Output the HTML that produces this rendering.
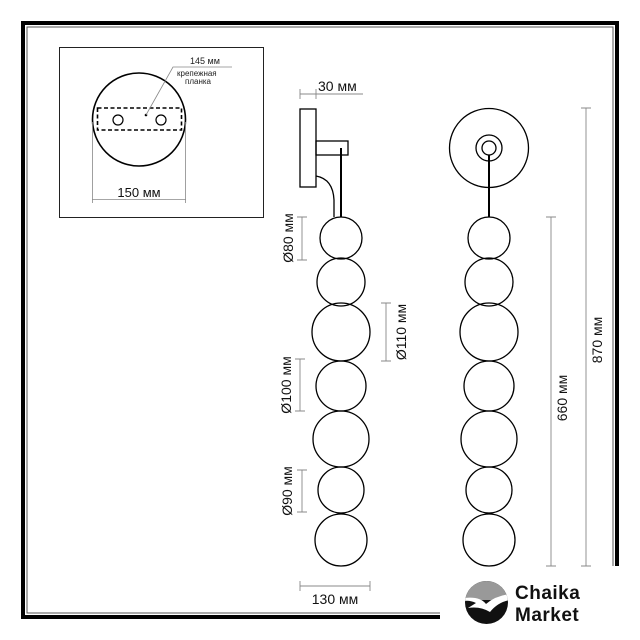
<!DOCTYPE html>
<html><head><meta charset="utf-8"><style>html,body{margin:0;padding:0;background:#fff}svg{display:block}</style></head><body>
<svg width="640" height="640" viewBox="0 0 640 640" xmlns="http://www.w3.org/2000/svg" font-family="Liberation Sans, DejaVu Sans, sans-serif">
<rect width="640" height="640" fill="#fff"/>
<!-- frame -->
<g fill="none" stroke="#000">
<path d="M440,617 L23,617 L23,23 L617,23 L617,566" stroke-width="4"/>
<path d="M440,613 L27,613 L27,27 L613,27 L613,566" stroke-width="1" stroke="#555"/>
</g>
<!-- inset -->
<rect x="59.5" y="47.5" width="204" height="170" fill="none" stroke="#222" stroke-width="1"/>
<circle cx="139" cy="119.5" r="46.5" fill="none" stroke="#000" stroke-width="1.6"/>
<rect x="97.5" y="108" width="84" height="22" fill="none" stroke="#000" stroke-width="1.6" stroke-dasharray="4,2.5"/>
<circle cx="118" cy="120" r="5" fill="none" stroke="#000" stroke-width="1.2"/>
<circle cx="161" cy="120" r="5" fill="none" stroke="#000" stroke-width="1.2"/>
<circle cx="146" cy="115" r="1.3" fill="#000"/>
<path d="M146,115 L173,67 L232,67" fill="none" stroke="#888" stroke-width="0.8"/>
<text x="190" y="64" font-size="9" fill="#222">145 мм</text>
<text x="177" y="76" font-size="8" fill="#222">крепежная</text>
<text x="185" y="84" font-size="8" fill="#222">планка</text>
<g stroke="#888" stroke-width="0.8"><line x1="92.5" y1="122" x2="92.5" y2="203"/><line x1="185.5" y1="122" x2="185.5" y2="203"/><line x1="92" y1="199.5" x2="186" y2="199.5"/></g>
<text x="139" y="197" font-size="13" text-anchor="middle" fill="#111">150 мм</text>
<!-- side view -->
<g fill="none" stroke="#000" stroke-width="1.3">
<rect x="300" y="109" width="16" height="78"/>
<rect x="316" y="141" width="32" height="14"/>
<path d="M316,176 Q333,179 334,200 L334,217"/>
<line x1="341" y1="148" x2="341" y2="217" stroke-width="2"/>
<circle cx="341" cy="238" r="21"/>
<circle cx="341" cy="282" r="24"/>
<circle cx="341" cy="332" r="29"/>
<circle cx="341" cy="386" r="25"/>
<circle cx="341" cy="439" r="28"/>
<circle cx="341" cy="490" r="23"/>
<circle cx="341" cy="540" r="26"/>
</g>
<!-- front view -->
<g fill="none" stroke="#000" stroke-width="1.3">
<circle cx="489" cy="148" r="39.5"/>
<circle cx="489" cy="148" r="13"/>
<circle cx="489" cy="148" r="7"/>
<line x1="489" y1="155" x2="489" y2="217" stroke-width="2"/>
<circle cx="489" cy="238" r="21"/>
<circle cx="489" cy="282" r="24"/>
<circle cx="489" cy="332" r="29"/>
<circle cx="489" cy="386" r="25"/>
<circle cx="489" cy="439" r="28"/>
<circle cx="489" cy="490" r="23"/>
<circle cx="489" cy="540" r="26"/>
</g>
<!-- dims -->
<g stroke="#888" stroke-width="0.9" fill="none">
<path d="M300,94 H363 M300,89 V99 M316,89 V99"/>
<path d="M302,217 V260 M297,217 H307 M297,260 H307"/>
<path d="M386,303 V361 M381,303 H391 M381,361 H391"/>
<path d="M300,359 V411 M295,359 H305 M295,411 H305"/>
<path d="M302,470 V512 M297,470 H307 M297,512 H307"/>
<path d="M300,586 H370 M300,581 V591 M370,581 V591"/>
<path d="M586,108 V566 M581,108 H591 M581,566 H591"/>
<path d="M551,217 V566 M546,217 H556 M546,566 H556"/>
</g>
<g font-size="14" fill="#111">
<text x="318" y="91">30 мм</text>
<text x="335" y="604" text-anchor="middle">130 мм</text>
<text transform="translate(293,238) rotate(-90)" text-anchor="middle">Ø80 мм</text>
<text transform="translate(406,332) rotate(-90)" text-anchor="middle">Ø110 мм</text>
<text transform="translate(291,385) rotate(-90)" text-anchor="middle">Ø100 мм</text>
<text transform="translate(292,491) rotate(-90)" text-anchor="middle">Ø90 мм</text>
<text transform="translate(567,398) rotate(-90)" text-anchor="middle">660 мм</text>
<text transform="translate(602,340) rotate(-90)" text-anchor="middle">870 мм</text>
</g>
<!-- logo -->
<defs><clipPath id="lc"><circle cx="486.5" cy="602.5" r="21.5"/></clipPath></defs>
<g clip-path="url(#lc)">
<rect x="464" y="580" width="46" height="46" fill="#111"/>
<rect x="464" y="580" width="46" height="20" fill="#999"/>
<path d="M464,598 Q480,596 486,604 Q495,596 510,594 L510,600 Q498,602 490,612 Q480,606 468,608 L476,603 Q470,600 464,601 Z" fill="#fff"/>
</g>
<g font-size="19" font-weight="bold" fill="#111">
<text x="515" y="599" letter-spacing="0.5">Chaika</text>
<text x="515" y="621" letter-spacing="0.5">Market</text>
</g>
</svg>
</body></html>
